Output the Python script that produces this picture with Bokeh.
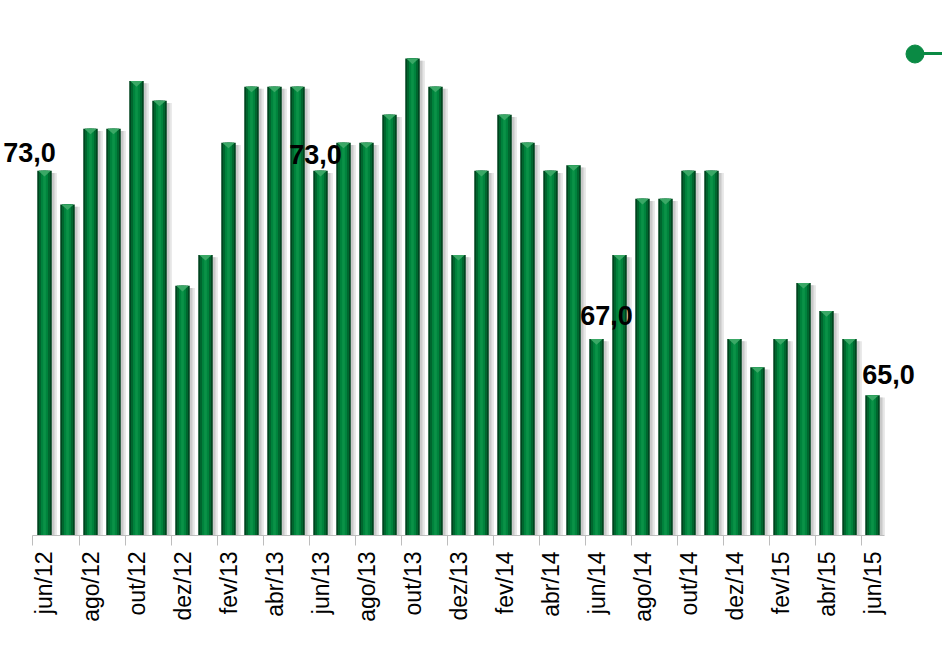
import math
from bokeh.plotting import figure
from bokeh.models import (ColumnDataSource, Range1d, FixedTicker, Legend, LegendItem)
from bokeh.core.properties import value
from bokeh.embed import file_html
from bokeh.resources import INLINE

# ---------------- data ----------------
months = ["jun/12", "jul/12", "ago/12", "set/12", "out/12", "nov/12", "dez/12",
          "jan/13", "fev/13", "mar/13", "abr/13", "mai/13", "jun/13", "jul/13",
          "ago/13", "set/13", "out/13", "nov/13", "dez/13", "jan/14", "fev/14",
          "mar/14", "abr/14", "mai/14", "jun/14", "jul/14", "ago/14", "set/14",
          "out/14", "nov/14", "dez/14", "jan/15", "fev/15", "mar/15", "abr/15",
          "mai/15", "jun/15"]
values = [73.0, 71.8, 74.5, 74.5, 76.2, 75.5, 68.9,
          70.0, 74.0, 76.0, 76.0, 76.0, 73.0, 74.0,
          74.0, 75.0, 77.0, 76.0, 70.0, 73.0, 75.0,
          74.0, 73.0, 73.2, 67.0, 70.0, 72.0, 72.0,
          73.0, 73.0, 67.0, 66.0, 67.0, 69.0, 68.0,
          67.0, 65.0]
labelled = ["jun/12", "jun/13", "jun/14", "jun/15"]   # months with a value label
tick_step = 2                                           # one axis label every 2 months

# ---------------- styles ----------------
label_dx = [-15, -5, 10, 16]     # px offsets of the value labels
label_dy = [-18, -16, -24, -21]
FONT = "Liberation Sans"
GREEN_DARK = "#00451f"
GREEN_MID = "#00662e"
GREEN_LIGHT = "#00843d"
GREEN_HI = "#0a9247"
BEVEL = "#3aa866"
LEGEND_GREEN = "#0a8a44"

n = len(months)
idx = list(range(n))
src = ColumnDataSource(dict(x=idx, top=values))
shadow = ColumnDataSource(dict(
    x1=[i + 0.12 for i in idx], x2=[i + 0.22 for i in idx],
    top=[v - 0.08 for v in values]))
bevel = ColumnDataSource(dict(
    xs=[[i - 0.27, i + 0.27, i] for i in idx],
    ys=[[v, v, v - 0.2] for v in values]))

lab_x = [months.index(m) for m in labelled]
lab_v = [values[i] for i in lab_x]
lab_src = ColumnDataSource(dict(
    x=lab_x, y=lab_v,
    text=[f"{v:.1f}".replace(".", ",") for v in lab_v],
    dx=label_dx, dy=label_dy))

p = figure(width=942, height=652, output_backend="svg", toolbar_location=None,
           x_range=Range1d(-1.913, 39.043), y_range=Range1d(60, 79.07),
           y_axis_location=None, min_border_left=0, min_border_right=0,
           min_border_top=0, min_border_bottom=117)
p.outline_line_color = None
p.xgrid.visible = False
p.ygrid.visible = False
p.background_fill_color = "white"
p.border_fill_color = "white"

# shadow
p.vbar(x="x2", top="top", bottom=60, width=0.63, source=shadow,
       fill_color="#e6e6e6", line_color=None)
p.vbar(x="x1", top="top", bottom=60, width=0.63, source=shadow,
       fill_color="#c9c9c9", line_color=None)
# bar body with simple gradient
p.vbar(x="x", top="top", bottom=60, width=0.63, source=src,
       fill_color=GREEN_DARK, line_color=None)
p.vbar(x="x", top="top", bottom=60, width=0.48, source=src,
       fill_color=GREEN_MID, line_color=None)
p.vbar(x="x", top="top", bottom=60, width=0.30, source=src,
       fill_color=GREEN_LIGHT, line_color=None)
p.vbar(x="x", top="top", bottom=60, width=0.12, source=src,
       fill_color=GREEN_HI, line_color=None)
p.patches(xs="xs", ys="ys", source=bevel, fill_color=BEVEL, line_color=None)

# value labels
p.text(x="x", y="y", text="text", x_offset="dx", y_offset="dy", source=lab_src,
       text_font=value(FONT), text_font_size="27px", text_font_style="bold",
       text_color="black", text_align="center", text_baseline="alphabetic")

# x axis
ax = p.xaxis[0]
ax.ticker = FixedTicker(ticks=idx[::tick_step],
                        minor_ticks=[i - 0.5 for i in idx[::tick_step]])
ax.major_label_overrides = {i: months[i] for i in idx[::tick_step]}
ax.bounds = (-0.5, n - 0.5)
ax.axis_line_color = "#bdbdbd"
ax.axis_line_width = 1
ax.major_tick_out = 0
ax.major_tick_in = 0
ax.minor_tick_out = 10
ax.minor_tick_in = 0
ax.minor_tick_line_color = "#bdbdbd"
ax.major_label_standoff = 6
ax.major_label_orientation = math.pi / 2
ax.major_label_text_font = FONT
ax.major_label_text_font_size = "23px"
ax.major_label_text_color = "black"

# legend of the (hidden) line series, cut by the right edge as in the original
hidden = ColumnDataSource(dict(x=[0], y=[float("nan")]))
r_dot = p.scatter(x="x", y="y", source=hidden, marker="circle", size=18,
                  fill_color=LEGEND_GREEN, line_color=LEGEND_GREEN)
r_line = p.line(x="x", y="y", source=hidden, line_color=LEGEND_GREEN, line_width=3)
common = dict(padding=0, margin=0, spacing=0, label_standoff=0,
              border_line_alpha=0, background_fill_alpha=0,
              label_text_font_size="2px")
leg_line = Legend(items=[LegendItem(label=" ", renderers=[r_line])],
                  glyph_width=45, glyph_height=20, location=(918, 472), **common)
leg_dot = Legend(items=[LegendItem(label=" ", renderers=[r_dot])],
                 glyph_width=45, glyph_height=45, location=(891.5, 459.5), **common)
p.add_layout(leg_line)
p.add_layout(leg_dot)

open("out.html", "w").write(file_html(p, INLINE))
